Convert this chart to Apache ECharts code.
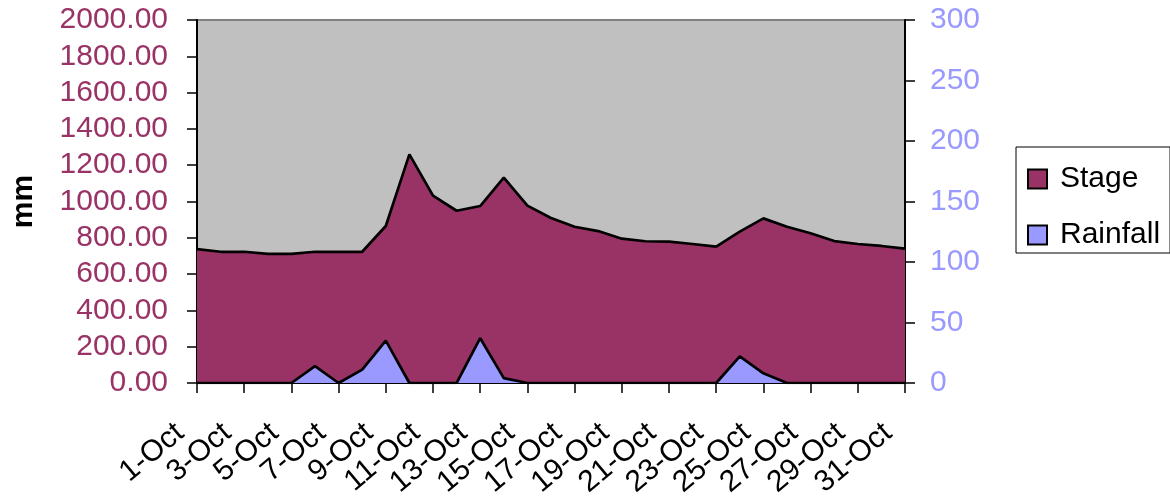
<!DOCTYPE html>
<html>
<head>
<meta charset="utf-8">
<script src="https://cdn.jsdelivr.net/npm/echarts@6/dist/echarts.min.js"></script>
<style>
  html, body { margin: 0; padding: 0; background: #ffffff; }
  #chart { width: 1170px; height: 497px; }
</style>
</head>
<body>
<div id="chart"></div>
<script>
// Daily dates for October
const days = [
  '1-Oct','2-Oct','3-Oct','4-Oct','5-Oct','6-Oct','7-Oct','8-Oct','9-Oct','10-Oct',
  '11-Oct','12-Oct','13-Oct','14-Oct','15-Oct','16-Oct','17-Oct','18-Oct','19-Oct','20-Oct',
  '21-Oct','22-Oct','23-Oct','24-Oct','25-Oct','26-Oct','27-Oct','28-Oct','29-Oct','30-Oct','31-Oct'
];

// River stage (mm, left axis)
const stage = [
  738, 723, 723, 711, 711, 723, 723, 723, 865, 1260,
  1032, 949, 975, 1131, 977, 909, 861, 837, 795, 781,
  779, 766, 751, 834, 907, 861, 825, 782, 766, 755, 740
];

// Daily rainfall (mm, right axis)
const rainfall = [
  0, 0, 0, 0, 0, 14, 0, 11, 35, 0,
  0, 0, 37, 4, 0, 0, 0, 0, 0, 0,
  0, 0, 0, 22, 8, 0, 0, 0, 0, 0, 0
];

const FONT = '"Liberation Sans", Arial, sans-serif';
const chart = echarts.init(document.getElementById('chart'), null, { renderer: 'canvas' });

chart.setOption({
  animation: false,
  backgroundColor: '#ffffff',
  textStyle: { fontFamily: FONT },
  grid: {
    left: 197, top: 20, width: 708, height: 363,
    containLabel: false, outerBoundsMode: 'none',
    show: true, backgroundColor: '#C0C0C0', borderColor: '#808080', borderWidth: 2
  },
  legend: {
    orient: 'vertical',
    left: 1016, top: 147,
    backgroundColor: '#ffffff',
    borderColor: '#000000', borderWidth: 1,
    padding: [15, 10, 1, 11],
    itemWidth: 19, itemHeight: 19, itemGap: 22,
    icon: 'rect',
    textStyle: { fontFamily: FONT, fontSize: 30, color: '#000', lineHeight: 34, padding: [0, 0, 0, 8] },
    data: [
      { name: 'Stage', itemStyle: { color: '#993366', borderColor: '#000', borderWidth: 2 } },
      { name: 'Rainfall', itemStyle: { color: '#9999FF', borderColor: '#000', borderWidth: 2 } }
    ]
  },
  xAxis: {
    type: 'category',
    data: days,
    boundaryGap: false,
    axisLine: { show: true, lineStyle: { color: '#000', width: 2 } },
    axisTick: { show: true, interval: 1, length: 10, lineStyle: { color: '#000', width: 1.5 } },
    axisLabel: {
      interval: 1, rotate: 40, margin: 32, padding: [0, 22, 0, 0],
      fontFamily: FONT, fontSize: 30, color: '#000'
    },
    splitLine: { show: false }
  },
  yAxis: [
    {
      type: 'value', min: 0, max: 2000, interval: 200,
      position: 'left',
      name: 'mm', nameLocation: 'middle', nameRotate: 90, nameGap: 158,
      nameTextStyle: { fontFamily: FONT, fontSize: 30, fontWeight: 'bold', color: '#000' },
      axisLine: { show: true, lineStyle: { color: '#000', width: 2 } },
      axisTick: { show: true, length: 10, lineStyle: { color: '#000', width: 1.5 } },
      axisLabel: {
        margin: 29, fontFamily: FONT, fontSize: 30, color: '#993366',
        formatter: v => v.toFixed(2)
      },
      splitLine: { show: false }
    },
    {
      type: 'value', min: 0, max: 300, interval: 50,
      position: 'right',
      axisLine: { show: true, lineStyle: { color: '#000', width: 2 } },
      axisTick: { show: true, length: 10, lineStyle: { color: '#000', width: 1.5 } },
      axisLabel: { margin: 25, fontFamily: FONT, fontSize: 30, color: '#9999FF' },
      splitLine: { show: false }
    }
  ],
  series: [
    {
      name: 'Stage', type: 'line', yAxisIndex: 0, data: stage,
      symbol: 'none', z: 2,
      lineStyle: { color: '#000', width: 2.7 },
      itemStyle: { color: '#993366' },
      areaStyle: { color: '#993366', opacity: 1 }
    },
    {
      name: 'Rainfall', type: 'line', yAxisIndex: 1, data: rainfall,
      symbol: 'none', z: 3,
      lineStyle: { color: '#000', width: 2.7 },
      itemStyle: { color: '#9999FF' },
      areaStyle: { color: '#9999FF', opacity: 1 }
    }
  ]
});
</script>
</body>
</html>
